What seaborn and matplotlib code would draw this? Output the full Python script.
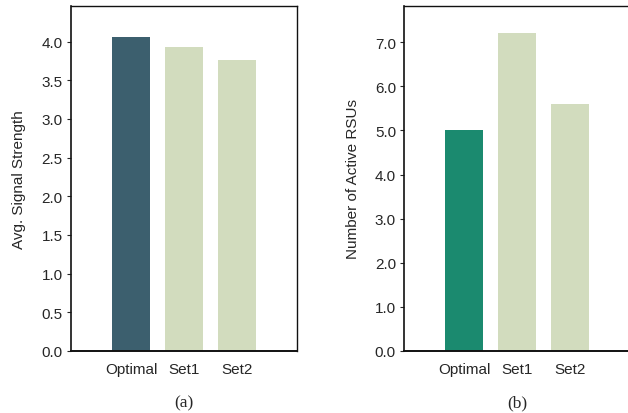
import pandas as pd
import matplotlib
matplotlib.use("Agg")
import matplotlib.pyplot as plt
import seaborn as sns

# data
categories = ["Optimal", "Set1", "Set2"]
signal_strength = [4.06, 3.93, 3.76]
active_rsus = [5.0, 7.21, 5.6]

colors_a = ["#3c5f6e", "#d2dcbe", "#d2dcbe"]
colors_b = ["#1b8a6f", "#d2dcbe", "#d2dcbe"]

sns.set_style("ticks")
plt.rcParams["font.family"] = ["Liberation Sans", "DejaVu Sans"]
plt.rcParams["font.size"] = 11


def draw_panel(ax, values, colors, ylabel, ymax, step, tag):
    df = pd.DataFrame({"cat": categories, "val": values})
    sns.barplot(data=df, x="cat", y="val", hue="cat", palette=dict(zip(categories, colors)),
                width=0.72, legend=False, saturation=1, linewidth=0, ax=ax)
    ax.set_xlim(-1.13, 3.13)
    ax.set_ylim(0, ymax)
    ticks = [i * step for i in range(int(ymax / step) + 1)]
    ax.set_yticks(ticks)
    ax.set_yticklabels([f"{t:.1f}" for t in ticks], fontsize=11)
    ax.set_xticks(range(len(categories)))
    ax.set_xticklabels(categories, fontsize=11)
    ax.tick_params(axis="x", length=0, pad=8)
    ax.tick_params(axis="y", length=3, width=0.8, pad=3)
    ax.set_xlabel("")
    ax.set_ylabel(ylabel, fontsize=11, labelpad=11)
    for side in ["top", "right", "left", "bottom"]:
        ax.spines[side].set_visible(True)
        ax.spines[side].set_linewidth(1.0)
        ax.spines[side].set_color("#111111")
    ax.spines["bottom"].set_linewidth(1.4)
    ax.spines["left"].set_linewidth(1.2)
    ax.text(0.5, -0.15, tag, transform=ax.transAxes, ha="center", va="center",
            fontsize=12.5, family=["Liberation Serif"])


fig = plt.figure(figsize=(6.28, 4.14), dpi=100)
ax_a = fig.add_axes([0.1131, 0.1498, 0.3599, 0.8333])
ax_b = fig.add_axes([0.6438, 0.1498, 0.3599, 0.8333])

draw_panel(ax_a, signal_strength, colors_a, "Avg. Signal Strength", 4.46, 0.5, "(a)")
draw_panel(ax_b, active_rsus, colors_b, "Number of Active RSUs", 7.82, 1.0, "(b)")

fig.savefig("out.png", dpi=100)
